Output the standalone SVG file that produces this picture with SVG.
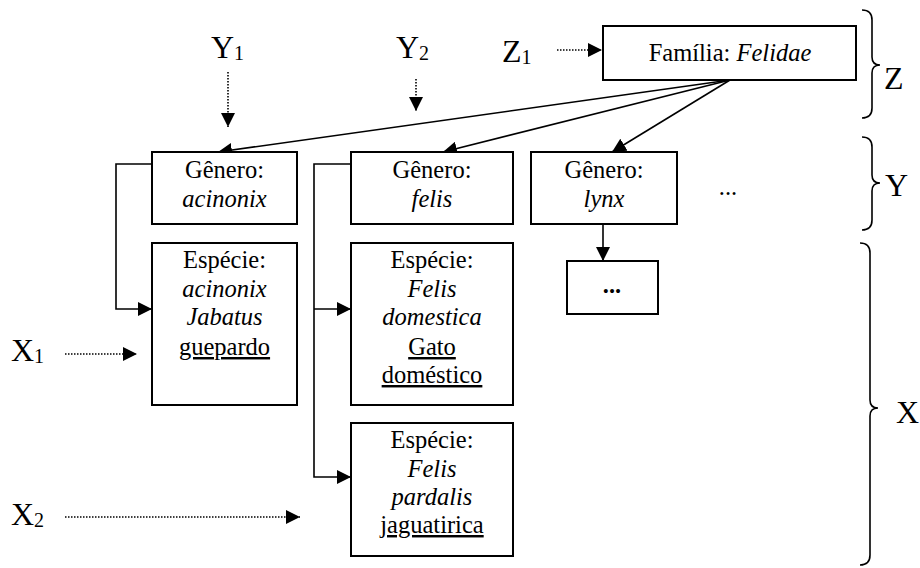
<svg xmlns="http://www.w3.org/2000/svg" width="920" height="568" viewBox="0 0 920 568">
  <style>
    text { font-family: "Liberation Serif", "Times New Roman", serif; fill: #000; }
    .t { font-size: 24.5px; text-anchor: middle; }
    .i { font-style: italic; }
    .u { text-decoration: underline; }
    .big { font-size: 32px; }
    .sub { font-size: 20px; }
    .box { fill: #fff; stroke: #000; stroke-width: 2; }
    .ln { fill: none; stroke: #000; stroke-width: 1.6; }
    .dot { fill: none; stroke: #000; stroke-width: 1.6; stroke-dasharray: 1.5 1.5; }
    .brace { fill: none; stroke: #000; stroke-width: 1.6; }
  </style>
  <defs>
    <marker id="arrow" viewBox="0 0 14 14" refX="14" refY="7" markerWidth="14" markerHeight="14" markerUnits="userSpaceOnUse" orient="auto">
      <path d="M0,0 L14,7 L0,14 Z" fill="#000"/>
    </marker>
  </defs>

  <rect width="920" height="568" fill="#fff"/>

  <!-- connectors -->
  <g id="connectors">
    <!-- family to genera -->
    <line class="ln" x1="730" y1="80" x2="218" y2="152" marker-end="url(#arrow)"/>
    <line class="ln" x1="730" y1="80" x2="443" y2="152" marker-end="url(#arrow)"/>
    <line class="ln" x1="730" y1="80" x2="612" y2="152" marker-end="url(#arrow)"/>
    <!-- genus acinonix to its species -->
    <polyline class="ln" points="152,164 116,164 116,309 152,309" marker-end="url(#arrow)"/>
    <!-- genus felis to its species -->
    <polyline class="ln" points="351,164 314,164 314,477 351,477" marker-end="url(#arrow)"/>
    <line class="ln" x1="314" y1="309" x2="351" y2="309" marker-end="url(#arrow)"/>
    <!-- genus lynx to unnamed species -->
    <line class="ln" x1="603" y1="224" x2="603" y2="261" marker-end="url(#arrow)"/>
    <!-- dotted pointers -->
    <line class="dot" x1="228" y1="72" x2="228" y2="127" marker-end="url(#arrow)"/>
    <line class="dot" x1="416" y1="79" x2="416" y2="111" marker-end="url(#arrow)"/>
    <line class="dot" x1="557" y1="50" x2="602" y2="50" marker-end="url(#arrow)"/>
    <line class="dot" x1="65" y1="354" x2="137" y2="354" marker-end="url(#arrow)"/>
    <line class="dot" x1="65" y1="517" x2="300" y2="517" marker-end="url(#arrow)"/>
  </g>

  <!-- family -->
  <g id="familia">
    <rect class="box" x="603" y="26" width="253" height="54"/>
    <text class="t" x="730" y="61">Família: <tspan class="i">Felidae</tspan></text>
  </g>

  <!-- genera -->
  <g id="genero-acinonix">
    <rect class="box" x="152" y="152" width="145" height="72"/>
    <text class="t" x="224.5" y="178">Gênero:</text>
    <text class="t i" x="224.5" y="207">acinonix</text>
  </g>
  <g id="genero-felis">
    <rect class="box" x="351" y="152" width="162" height="72"/>
    <text class="t" x="432" y="178">Gênero:</text>
    <text class="t i" x="432" y="207">felis</text>
  </g>
  <g id="genero-lynx">
    <rect class="box" x="531" y="152" width="146" height="72"/>
    <text class="t" x="604" y="178">Gênero:</text>
    <text class="t i" x="604" y="207">lynx</text>
  </g>
  <g id="genero-mais">
    <text class="t" x="728" y="195">...</text>
  </g>

  <!-- species -->
  <g id="especie-jabatus">
    <rect class="box" x="152" y="243" width="145" height="162"/>
    <text class="t" x="224.5" y="268">Espécie:</text>
    <text class="t i" x="224.5" y="297">acinonix</text>
    <text class="t i" x="224.5" y="325">Jabatus</text>
    <text class="t u" x="224.5" y="355">guepardo</text>
  </g>
  <g id="especie-domestica">
    <rect class="box" x="351" y="243" width="162" height="162"/>
    <text class="t" x="432" y="268">Espécie:</text>
    <text class="t i" x="432" y="297">Felis</text>
    <text class="t i" x="432" y="325">domestica</text>
    <text class="t u" x="432" y="355">Gato</text>
    <text class="t u" x="432" y="383">doméstico</text>
  </g>
  <g id="especie-pardalis">
    <rect class="box" x="351" y="423" width="162" height="133"/>
    <text class="t" x="432" y="448">Espécie:</text>
    <text class="t i" x="432" y="477">Felis</text>
    <text class="t i" x="432" y="505">pardalis</text>
    <text class="t u" x="432" y="533">jaguatirica</text>
  </g>
  <g id="especie-lynx">
    <rect class="box" x="567" y="261" width="91" height="53"/>
    <text class="t" x="612" y="293" font-weight="bold">...</text>
  </g>

  <!-- level labels -->
  <g id="labels">
    <text class="big" x="211" y="58">Y<tspan class="sub" dy="2">1</tspan></text>
    <text class="big" x="396" y="58">Y<tspan class="sub" dy="2">2</tspan></text>
    <text class="big" x="502" y="62">Z<tspan class="sub" dy="2">1</tspan></text>
    <text class="big" x="11" y="361">X<tspan class="sub" dy="2">1</tspan></text>
    <text class="big" x="11" y="525">X<tspan class="sub" dy="2">2</tspan></text>
  </g>

  <!-- braces grouping the levels -->
  <g id="brace-z">
    <path class="brace" d="M862,10 Q872,10 872,20 L872,57 Q872,65 880,65 Q872,65 872,73 L872,108 Q872,118 862,118"/>
    <text class="big" x="884" y="89">Z</text>
  </g>
  <g id="brace-y">
    <path class="brace" d="M862,137 Q872,137 872,147 L872,175 Q872,183 880,183 Q872,183 872,191 L872,220 Q872,230 862,230"/>
    <text class="big" x="885" y="196">Y</text>
  </g>
  <g id="brace-x">
    <path class="brace" d="M860,243 Q870,243 870,253 L870,400 Q870,408 878,408 Q870,408 870,416 L870,555 Q870,565 860,565"/>
    <text class="big" x="896" y="423">X</text>
  </g>
</svg>
